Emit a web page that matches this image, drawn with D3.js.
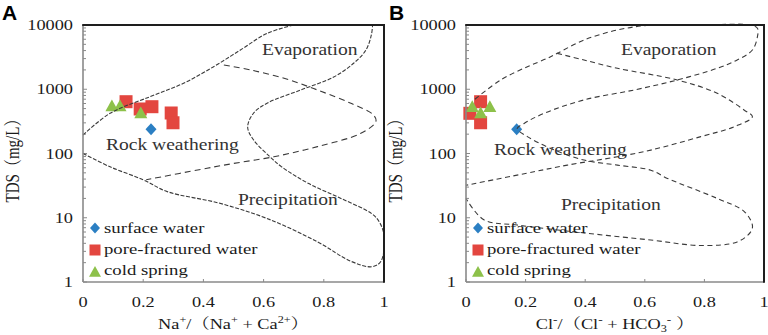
<!DOCTYPE html>
<html><head><meta charset="utf-8">
<script src="https://cdn.jsdelivr.net/npm/d3@7"></script>
<style>html,body{margin:0;padding:0;background:#fff;}svg{display:block;}</style>
</head><body>
<svg id="chart" width="768" height="335"></svg>
<script>
// ---------------- DATA ----------------
const seriesNames = ["surface water", "pore-fractured water", "cold spring"];
const xTicks = [0, 0.2, 0.4, 0.6, 0.8, 1];
const xTickLabels = ["0", "0.2", "0.4", "0.6", "0.8", "1"];
const yTicks = [1, 10, 100, 1000, 10000];
const yTickLabels = ["1", "10", "100", "1000", "10000"];

// Panel A : Na+/(Na+ + Ca2+) vs TDS
const surfaceA = [[0.226, 238]];
const poreA = [[0.143, 640], [0.19, 493], [0.229, 535], [0.293, 427], [0.299, 301]];
const springA = [[0.096, 548], [0.123, 548], [0.192, 427]];
// Panel B : Cl-/(Cl- + HCO3-) vs TDS
const surfaceB = [[0.17, 238]];
const poreB = [[0.013, 422], [0.049, 640], [0.049, 301]];
const springB = [[0.021, 535], [0.049, 427], [0.08, 535]];

// Gibbs boundary curves [ratio, TDS]
const outerA = [[0.0, 100], [0.09, 62], [0.2, 39], [0.28, 25.5], [0.45, 17], [0.61, 9.8], [0.78, 4.2],
  [0.89, 2.1], [0.96, 1.73], [0.99, 2.1], [1.0, 5.3], [0.985, 8.5], [0.96, 11.5], [0.857, 20],
  [0.75, 34], [0.66, 62], [0.62, 90], [0.567, 162], [0.547, 258], [0.567, 427], [0.613, 611],
  [0.723, 973], [0.833, 1550], [0.9, 2560], [0.94, 4080], [0.958, 7000], [0.962, 9800]];
const upperA = [[0.0, 194], [0.09, 422], [0.223, 766], [0.334, 1240], [0.434, 2245], [0.523, 4080],
  [0.612, 7420], [0.70, 10000]];
const innerA = [[0.468, 2385], [0.557, 1995], [0.668, 1480], [0.779, 973], [0.89, 604], [0.965, 398],
  [0.973, 313], [0.923, 206], [0.779, 128], [0.634, 89], [0.5, 70], [0.412, 59], [0.21, 39]];

const outerB = [[0.03, 700], [0.116, 1393], [0.206, 2245], [0.273, 3030], [0.306, 3620], [0.396, 5840],
  [0.508, 8360], [0.62, 9950], [0.8, 10000], [0.955, 9990], [0.978, 8880], [0.978, 6580], [0.961, 4080],
  [0.91, 2850], [0.843, 2120], [0.709, 1393], [0.564, 973], [0.396, 683], [0.262, 422], [0.195, 294],
  [0.172, 245], [0.206, 183], [0.284, 120], [0.396, 79], [0.508, 66], [0.62, 55], [0.676, 41],
  [0.843, 20], [0.933, 12.6], [0.961, 7.7], [0.956, 6.1], [0.91, 4.2], [0.788, 3.7], [0.62, 4.5],
  [0.396, 5.8], [0.172, 7.7], [0.06, 9.3], [0.0, 20]];
const innerB = [[0.306, 3620], [0.396, 2850], [0.508, 2120], [0.709, 1393], [0.843, 865], [0.933, 476],
  [0.961, 374], [0.9, 261], [0.788, 183], [0.62, 113], [0.508, 89], [0.34, 66], [0.228, 52], [0.0, 32]];

const regionLabelsA = ["Evaporation", "Rock weathering", "Precipitation"];
const regionLabelsB = ["Evaporation", "Rock weathering", "Precipitation"];

// ---------------- STYLE / LAYOUT ----------------
const colors = {surface: "#2b7fc3", pore: "#e3463f", spring: "#8dc14a"};
const SERIF = "'Liberation Serif','Times New Roman','Noto Serif CJK SC','Noto Sans CJK SC',serif";
const svg = d3.select("#chart");
const yTop = 25, yBot = 282;

function stext(g, x, y, str, o) {
  o = o || {};
  const gg = g.append("g").attr("transform", `translate(${x},${y}) scale(${o.sx || 1.22},1)${o.rot ? " rotate(" + o.rot + ")" : ""}`);
  const t = gg.append("text").attr("x", 0).attr("y", 0)
    .attr("font-family", o.family || SERIF).attr("font-size", o.size || 15)
    .attr("fill", o.fill || "#1a1a1a").attr("text-anchor", o.anchor || "start");
  if (o.weight) t.attr("font-weight", o.weight);
  if (Array.isArray(str)) {
    str.forEach(p => {
      const ts = t.append("tspan").text(p.t);
      if (p.dy) ts.attr("dy", p.dy);
      if (p.fs) ts.attr("font-size", p.fs);
    });
  } else t.text(str);
  return t;
}

function marker(g, type, x, y, s) {
  if (type === "square") {
    g.append("rect").attr("x", x - s / 2).attr("y", y - s / 2).attr("width", s).attr("height", s).attr("fill", colors.pore);
  } else if (type === "triangle") {
    const h = s * 0.9;
    g.append("path").attr("d", `M${x},${y - h * 0.55}L${x + s / 2},${y + h * 0.45}L${x - s / 2},${y + h * 0.45}Z`).attr("fill", colors.spring);
  } else {
    const w = s * 0.5, h = s * 0.55;
    g.append("path").attr("d", `M${x},${y - h}L${x + w},${y}L${x},${y + h}L${x - w},${y}Z`).attr("fill", colors.surface);
  }
}

function panel(cfg) {
  const g = svg.append("g");
  const x = d3.scaleLinear().domain([0, 1]).range([cfg.x0, cfg.x1]);
  const y = d3.scaleLog().domain([1, 10000]).range([yBot, yTop]);

  // minor ticks on y axis (inward)
  const minors = [];
  for (let d = 1; d < 10000; d *= 10) for (let k = 1; k < 10; k++) minors.push(d * k);
  minors.push(10000);
  g.selectAll(null).data(minors).enter().append("line")
    .attr("x1", cfg.x0).attr("x2", d => cfg.x0 + (yTicks.includes(d) ? 4 : 3))
    .attr("y1", d => y(d)).attr("y2", d => y(d))
    .attr("stroke", "#8a8a8a").attr("stroke-width", 1);
  // x ticks (upward)
  g.selectAll(null).data(xTicks).enter().append("line")
    .attr("x1", d => x(d)).attr("x2", d => x(d)).attr("y1", yBot).attr("y2", yBot - 3)
    .attr("stroke", "#8a8a8a").attr("stroke-width", 1);

  // markers
  cfg.pore.forEach(p => marker(g, "square", x(p[0]), y(p[1]), 13));
  cfg.spring.forEach(p => marker(g, "triangle", x(p[0]), y(p[1]), 13));
  cfg.surface.forEach(p => marker(g, "diamond", x(p[0]), y(p[1]), 11));

  // curves
  const line = d3.line().x(d => x(d[0])).y(d => y(d[1])).curve(d3.curveCatmullRom.alpha(0.5));
  cfg.curves.forEach(c => {
    g.append("path").attr("d", line(c.data)).attr("fill", "none")
      .attr("stroke", "#3a3a3a").attr("stroke-width", 1.1).attr("stroke-dasharray", c.dash);
  });

  // axes frame
  g.append("line").attr("x1", cfg.x0).attr("x2", cfg.x0).attr("y1", yTop).attr("y2", yBot).attr("stroke", "#8a8a8a").attr("stroke-width", 1.6);
  g.append("line").attr("x1", cfg.x0).attr("x2", cfg.x1).attr("y1", yBot).attr("y2", yBot).attr("stroke", "#8a8a8a").attr("stroke-width", 1.6);
  g.append("line").attr("x1", cfg.x0 - 0.8).attr("x2", cfg.x1 + 1).attr("y1", yTop).attr("y2", yTop).attr("stroke", "#1e1e1e").attr("stroke-width", 2);
  g.append("line").attr("x1", cfg.x1).attr("x2", cfg.x1).attr("y1", yTop).attr("y2", yBot + 0.8).attr("stroke", "#1e1e1e").attr("stroke-width", 2);

  // tick labels
  xTicks.forEach((v, i) => stext(g, x(v), 307, xTickLabels[i], {anchor: "middle"}));
  yTicks.forEach((v, i) => stext(g, cfg.x0 - 10, y(v) + 5, yTickLabels[i], {anchor: "end"}));

  // axis titles
  stext(g, cfg.x0 - 64, 157, "TDS（mg/L）", {anchor: "middle", rot: -90});
  stext(g, x(0.5), 329, cfg.xTitle, {anchor: "middle"});

  // region labels
  cfg.regions.forEach(r => stext(g, r.x, r.y, r.t, {size: 17, sx: 1.15, fill: "#333"}));

  // legend
  const lx = cfg.x0 + 12;
  marker(g, "diamond", lx, 228, 10);
  marker(g, "square", lx, 250, 11);
  marker(g, "triangle", lx, 272, 12);
  seriesNames.forEach((s, i) => stext(g, lx + 9, 233 + i * 21, s, {sx: 1.25}));

  // panel letter
  stext(svg, cfg.letterX, 20, cfg.letter, {family: "'Liberation Sans',Arial,sans-serif", size: 21, weight: "bold", sx: 1, fill: "#000"});
}

panel({
  x0: 83, x1: 384, letter: "A", letterX: 2,
  surface: surfaceA, pore: poreA, spring: springA,
  curves: [{data: outerA, dash: "4,1.6"}, {data: upperA, dash: "4,1.6"}, {data: innerA, dash: "6,4"}],
  xTitle: [{t: "Na"}, {t: "+", dy: -6, fs: 10}, {t: "/（Na", dy: 6}, {t: "+", dy: -6, fs: 10}, {t: " + Ca", dy: 6}, {t: "2+", dy: -6, fs: 10}, {t: "）", dy: 6}],
  regions: [{t: regionLabelsA[0], x: 262, y: 55}, {t: regionLabelsA[1], x: 106, y: 150}, {t: regionLabelsA[2], x: 238, y: 205}]
});
panel({
  x0: 466, x1: 764, letter: "B", letterX: 389,
  surface: surfaceB, pore: poreB, spring: springB,
  curves: [{data: outerB, dash: "5,3.5"}, {data: innerB, dash: "5,3.5"}],
  xTitle: [{t: "Cl"}, {t: "-", dy: -6, fs: 11}, {t: "/（Cl", dy: 6}, {t: "-", dy: -6, fs: 11}, {t: " + HCO", dy: 6}, {t: "3", dy: 3, fs: 10}, {t: "-", dy: -9, fs: 11}, {t: " ）", dy: 6}],
  regions: [{t: regionLabelsB[0], x: 621, y: 55}, {t: regionLabelsB[1], x: 494, y: 155}, {t: regionLabelsB[2], x: 561, y: 210}]
});
</script>
</body></html>
